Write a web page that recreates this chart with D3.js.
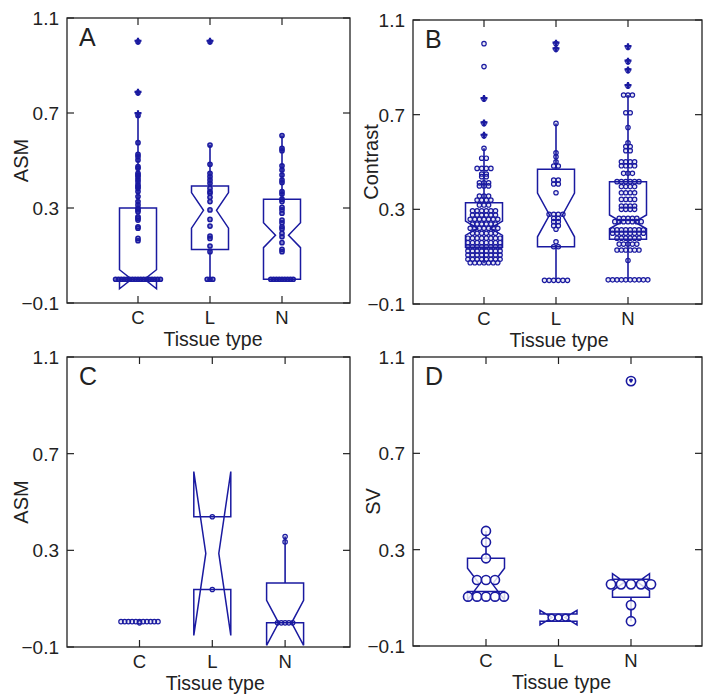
<!DOCTYPE html>
<html>
<head>
<meta charset="utf-8">
<script src="https://cdn.jsdelivr.net/npm/d3@7"></script>
<style>
  body { margin: 0; background: #fff; }
  svg { display: block; }
</style>
</head>
<body>
<script>
// ---- data ----
var categories = ["C", "L", "N"];
var yTicks     = [-0.1, 0.3, 0.7, 1.1];
var panelNames = ["A", "B", "C", "D"];
var yTitles    = ["ASM", "Contrast", "ASM", "SV"];
var xTitle     = "Tissue type";

// data points, as [value, how many at that value]
var aPointsC = [[1.0,1],[0.785,1],[0.69,1],[0.575,1],[0.526,1],[0.516,1],[0.502,1],[0.474,1],[0.467,1],[0.446,1],[0.439,1],[0.432,1],[0.421,1],[0.411,1],[0.397,1],[0.39,1],[0.383,1],[0.369,1],[0.348,1],[0.327,1],[0.313,1],[0.299,1],[0.292,1],[0.284,1],[0.263,1],[0.257,1],[0.249,1],[0.221,1],[0.215,1],[0.172,1],[0.162,1],[0,17]];
var aPointsL = [[1.0,1],[0.565,1],[0.484,1],[0.446,1],[0.432,1],[0.418,1],[0.404,1],[0.383,1],[0.369,1],[0.362,1],[0.345,1],[0.327,1],[0.292,1],[0.252,1],[0.224,1],[0.182,1],[0.172,1],[0.14,1],[0.116,1],[0,3]];
var aPointsN = [[0.605,1],[0.551,1],[0.541,1],[0.478,1],[0.46,1],[0.439,1],[0.418,1],[0.407,1],[0.369,1],[0.359,1],[0.337,1],[0.327,1],[0.303,1],[0.292,1],[0.278,1],[0.249,1],[0.238,1],[0.221,1],[0.212,1],[0.193,1],[0.179,1],[0.154,1],[0.126,1],[0.116,1],[0,9]];

var bPointsC = [[1.0,1],[0.903,1],[0.766,1],[0.663,1],[0.611,1],[0.558,1],[0.516,2],[0.473,4],[0.449,2],[0.438,2],[0.412,3],[0.399,3],[0.356,3],[0.339,4],[0.318,3],[0.294,6],[0.276,6],[0.258,7],[0.238,6],[0.22,7],[0.199,6],[0.178,8],[0.159,8],[0.142,8],[0.124,8],[0.107,8],[0.089,8],[0.074,7]];
var bPointsL = [[1.0,1],[0.976,1],[0.663,1],[0.539,1],[0.522,1],[0.501,1],[0.483,2],[0.424,2],[0.407,2],[0.37,1],[0.279,4],[0.262,2],[0.248,2],[0.231,2],[0.216,1],[0.163,1],[0.142,2],[0,6]];
var bPointsN = [[0.985,1],[0.924,1],[0.887,1],[0.821,1],[0.783,3],[0.708,2],[0.646,1],[0.581,1],[0.565,2],[0.548,2],[0.501,4],[0.484,4],[0.452,3],[0.417,6],[0.396,4],[0.37,4],[0.342,4],[0.314,4],[0.3,4],[0.262,5],[0.248,7],[0.213,8],[0.199,8],[0.178,6],[0.153,5],[0.128,6],[0.084,1],[0.002,10]];

var cPointsC = [[0.005,11],[0.0,1]];
var cPointsL = [[0.439,1],[0.138,1]];
var cPointsN = [[0.357,1],[0.335,1],[0,5]];

var dPointsC = [[0.378,1],[0.331,1],[0.264,1],[0.174,3],[0.105,5]];
var dPointsL = [[0.018,3]];
var dPointsN = [[1.0,1],[0.156,5],[0.07,1],[0.003,1]];

// box statistics per category (C, L, N); null = not drawn
var aQ1 = [0, 0.125, 0],      aMed = [0, 0.29, 0.185],    aQ3 = [0.30, 0.393, 0.337];
var aNotchLo = [-0.04, 0.215, 0.133], aNotchHi = [0.04, 0.365, 0.238];
var aWhiskLo = [0, 0, 0],     aWhiskHi = [0.69, 0.565, 0.605];
var aOutliers = [[1.0, 0.785, 0.695], [1.0], []];

var bQ1 = [0.14, 0.142, 0.174], bMed = [0.22, 0.276, 0.247], bQ3 = [0.328, 0.469, 0.417];
var bNotchLo = [0.19, 0.184, 0.218], bNotchHi = [0.25, 0.369, 0.276];
var bWhiskLo = [0.072, 0, 0.002], bWhiskHi = [0.558, 0.663, 0.783];
var bOutliers = [[0.766, 0.663, 0.611], [1.0, 0.976], [0.985, 0.924, 0.887, 0.821]];

var cQ1 = [null, 0.138, 0],   cMed = [null, 0.287, 0],    cQ3 = [null, 0.439, 0.165];
var cNotchLo = [null, -0.052, -0.093], cNotchHi = [null, 0.626, 0.093];
var cWhiskLo = [null, 0.138, 0], cWhiskHi = [null, 0.439, 0.357];
var cOutliers = [[], [], []];

var dQ1 = [0.126, 0.003, 0.102], dMed = [0.157, 0.018, 0.165], dQ3 = [0.264, 0.033, 0.177];
var dNotchLo = [0.091, -0.012, 0.13], dNotchHi = [0.223, 0.048, 0.2];
var dWhiskLo = [0.126, 0.003, 0.003], dWhiskHi = [0.378, 0.033, 0.177];
var dOutliers = [[], [], [1.0]];

// ---- layout ----
var W = 703, H = 694;
var blue = "#1a1aa0";
var ink = "#222";
var font = "'Liberation Sans', Arial, Helvetica, sans-serif";

var panels = [
  {name: panelNames[0], ytitle: yTitles[0], left: 67,  right: 350, top: 18,  bottom: 303, x0: 66,    step: 72,
   points: [aPointsC, aPointsL, aPointsN], q1: aQ1, med: aMed, q3: aQ3, nlo: aNotchLo, nhi: aNotchHi,
   wlo: aWhiskLo, whi: aWhiskHi, out: aOutliers, r: [2.1, 2.1, 2.1], gap: [2.8, 2.8, 2.8], sw: 1.5, fill: 0.55, plus: 3.5, ytx: 28},
  {name: panelNames[1], ytitle: yTitles[1], left: 413, right: 702, top: 20,  bottom: 304, x0: 412,   step: 72,
   points: [bPointsC, bPointsL, bPointsN], q1: bQ1, med: bMed, q3: bQ3, nlo: bNotchLo, nhi: bNotchHi,
   wlo: bWhiskLo, whi: bWhiskHi, out: bOutliers, r: [2.2, 2.2, 2.2], gap: [4.6, 4.6, 4.4], sw: 1.2, fill: 0.1, plus: 3.5, ytx: 378},
  {name: panelNames[2], ytitle: yTitles[2], left: 67,  right: 350, top: 357, bottom: 647, x0: 66.7,  step: 72.8,
   points: [cPointsC, cPointsL, cPointsN], q1: cQ1, med: cMed, q3: cQ3, nlo: cNotchLo, nhi: cNotchHi,
   wlo: cWhiskLo, whi: cWhiskHi, out: cOutliers, r: [2.2, 2.2, 2.2], gap: [3.7, 3.7, 3.8], sw: 1.2, fill: 0.1, plus: 3.5, ytx: 28},
  {name: panelNames[3], ytitle: yTitles[3], left: 413, right: 702, top: 357, bottom: 646, x0: 413.5, step: 72.5,
   points: [dPointsC, dPointsL, dPointsN], q1: dQ1, med: dMed, q3: dQ3, nlo: dNotchLo, nhi: dNotchHi,
   wlo: dWhiskLo, whi: dWhiskHi, out: dOutliers, r: [4.5, 3.4, 4.6], gap: [9, 7, 10], sw: 1.6, fill: 0, plus: 1.8, ytx: 380}
];

var svg = d3.select("body").append("svg")
  .attr("width", W).attr("height", H)
  .style("font-family", font);

var boxHalf = 18.5, notchHalf = 6.5, tickLen = 7;

panels.forEach(function(p) {
  var x = d3.scaleLinear().domain([0, 4]).range([p.x0, p.x0 + 4 * p.step]);
  var y = d3.scaleLinear().domain([-0.1, 1.1]).range([p.bottom, p.top]);
  var g = svg.append("g");

  // frame
  g.append("rect")
    .attr("x", p.left).attr("y", p.top)
    .attr("width", p.right - p.left).attr("height", p.bottom - p.top)
    .attr("fill", "none").attr("stroke", ink).attr("stroke-width", 1.3);

  // inward ticks on all four sides
  var ax = g.append("g").attr("stroke", ink).attr("stroke-width", 1.2);
  yTicks.forEach(function(t) {
    ax.append("line").attr("x1", p.left).attr("x2", p.left + tickLen).attr("y1", y(t)).attr("y2", y(t));
    ax.append("line").attr("x1", p.right).attr("x2", p.right - tickLen).attr("y1", y(t)).attr("y2", y(t));
  });
  categories.forEach(function(c, i) {
    ax.append("line").attr("x1", x(i + 1)).attr("x2", x(i + 1)).attr("y1", p.bottom).attr("y2", p.bottom - tickLen);
    ax.append("line").attr("x1", x(i + 1)).attr("x2", x(i + 1)).attr("y1", p.top).attr("y2", p.top + tickLen);
  });

  // tick labels
  g.selectAll(".yt").data(yTicks).enter().append("text")
    .attr("x", p.left - 8).attr("y", function(d) { return y(d); })
    .attr("dy", "0.36em").attr("text-anchor", "end")
    .attr("font-size", 19).attr("fill", ink)
    .text(function(d) { return d3.format(".1f")(d); });
  g.selectAll(".xt").data(categories).enter().append("text")
    .attr("x", function(d, i) { return x(i + 1); }).attr("y", p.bottom + 21)
    .attr("text-anchor", "middle").attr("font-size", 18.5).attr("fill", ink)
    .text(function(d) { return d; });

  // axis titles
  g.append("text")
    .attr("x", x(2) + 3).attr("y", p.bottom + 43)
    .attr("text-anchor", "middle").attr("font-size", 19.5).attr("fill", ink)
    .text(xTitle);
  g.append("text")
    .attr("transform", "translate(" + p.ytx + "," + ((p.top + p.bottom) / 2) + ") rotate(-90)")
    .attr("text-anchor", "middle").attr("font-size", 20).attr("fill", ink)
    .text(p.ytitle);

  // panel letter
  g.append("text")
    .attr("x", p.left + 12).attr("y", p.top + 28)
    .attr("font-size", 25).attr("fill", ink)
    .text(p.name);

  var line = d3.line();

  categories.forEach(function(c, i) {
    var cx = x(i + 1);
    var marks = g.append("g").attr("stroke", blue).attr("fill", "none");

    if (p.q1[i] !== null) {
      // notched box, MATLAB style outline
      var pts = [
        [cx - boxHalf, p.q1[i]], [cx - boxHalf, p.nlo[i]], [cx - notchHalf, p.med[i]],
        [cx - boxHalf, p.nhi[i]], [cx - boxHalf, p.q3[i]], [cx + boxHalf, p.q3[i]],
        [cx + boxHalf, p.nhi[i]], [cx + notchHalf, p.med[i]], [cx + boxHalf, p.nlo[i]],
        [cx + boxHalf, p.q1[i]]
      ].map(function(d) { return [d[0], y(d[1])]; });
      marks.append("path").attr("d", line(pts) + "Z")
        .attr("stroke-width", 1.5).attr("stroke-linejoin", "miter");

      // whiskers
      if (p.whi[i] > p.q3[i]) {
        marks.append("line").attr("x1", cx).attr("x2", cx)
          .attr("y1", y(p.q3[i])).attr("y2", y(p.whi[i])).attr("stroke-width", 1.6);
      }
      if (p.wlo[i] < p.q1[i]) {
        marks.append("line").attr("x1", cx).attr("x2", cx)
          .attr("y1", y(p.q1[i])).attr("y2", y(p.wlo[i])).attr("stroke-width", 1.6);
      }
    }

    // data points: equal values spread sideways
    var dots = [];
    p.points[i].forEach(function(row) {
      for (var k = 0; k < row[1]; k++) {
        dots.push({v: row[0], dx: (k - (row[1] - 1) / 2) * p.gap[i]});
      }
    });
    marks.selectAll("circle").data(dots).enter().append("circle")
      .attr("cx", function(d) { return cx + d.dx; })
      .attr("cy", function(d) { return y(d.v); })
      .attr("r", p.r[i])
      .attr("fill", p.fill > 0 ? blue : "#fff").attr("fill-opacity", p.fill > 0 ? p.fill : 0.8)
      .attr("stroke-width", p.sw);

    // outliers: '+' marker over the point
    var s = p.plus;
    marks.selectAll(".out").data(p.out[i]).enter().append("path")
      .attr("d", "M" + (-s) + ",-1H" + s + "M0," + (-s - 0.5) + "V" + (s - 0.5))
      .attr("transform", function(d) { return "translate(" + cx + "," + y(d) + ")"; })
      .attr("stroke-width", 2.2);
  });
});
</script>
</body>
</html>
